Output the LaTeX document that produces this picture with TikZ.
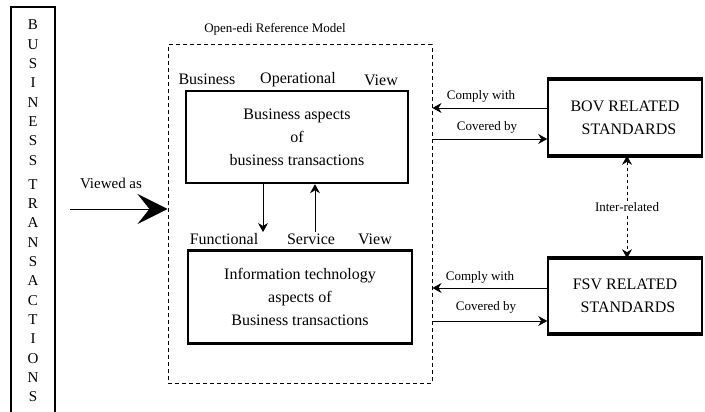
\documentclass[tikz,border=0pt]{standalone}
\usepackage{fontspec}
\setmainfont{Liberation Serif}
\usetikzlibrary{positioning}
\usetikzlibrary{arrows.meta}

\tikzset{
  viewbox/.style={draw, rectangle, line width=2.5pt, minimum width=222pt, minimum height=92pt, align=center, font=\fontsize{16}{23}\selectfont},
  stdbox/.style={draw, rectangle, line width=1.6pt, minimum width=154pt, minimum height=75pt, align=center, font=\fontsize{16}{23}\selectfont},
  viewlabel/.style={font=\fontsize{16}{18}\selectfont, inner sep=0pt},
  smalllabel/.style={font=\fontsize{13}{15}\selectfont, inner sep=0pt},
  arr/.style={-{Stealth[length=9pt,width=10pt,inset=3pt]}, line width=0.8pt},
}

\begin{document}
\begin{tikzpicture}[x=1pt, y=-1pt]
    \useasboundingbox (0,0) rectangle (705,412);

    % Business transactions column
    \node (bizcol) [align=center, inner sep=0pt, font=\fontsize{15}{19.3}\selectfont] at (33,211) {B\\U\\S\\I\\N\\E\\S\\S\\[5pt]T\\R\\A\\N\\S\\A\\C\\T\\I\\O\\N\\S};
    \draw[line width=1.5pt] (11,412) -- (11,7) -- (55,7) -- (55,412);

    % Open-edi Reference Model
    \node (oedi) [draw, dashed, rectangle, line width=1pt, dash pattern=on 4pt off 3pt, minimum width=264pt, minimum height=338pt] at (300,214) {};
    \node (oedititle) [smalllabel] at (275,29) {Open-edi Reference Model};

    % Views
    \node (busbox) [viewbox] at (297,137) {Business aspects\\of\hspace*{10pt}\\business transactions};
    \node (itbox) [viewbox, minimum width=224pt, minimum height=93pt] at (300,297) {Information technology\\aspects of\\Business transactions};

    \node (bovl1) [viewlabel] at (207,79) {Business};
    \node (bovl2) [viewlabel] at (298,80) {Operational};
    \node (bovl3) [viewlabel] at (381,80) {View};
    \node (fsvl1) [viewlabel] at (224,239) {Functional};
    \node (fsvl2) [viewlabel] at (311,239) {Service};
    \node (fsvl3) [viewlabel] at (375,239) {View};

    % Related standards
    \node (bovstd) [stdbox] at (625,117.5) {BOV RELATED\\\hspace*{8pt}STANDARDS};
    \node (fsvstd) [stdbox, minimum height=74pt] at (625,296) {FSV RELATED\\\hspace*{6pt}STANDARDS};
    \draw[line width=3.5pt] (bovstd.north west) -- (bovstd.north east);
    \draw[line width=3.5pt] (bovstd.south west) -- (bovstd.south east);
    \draw[line width=3.5pt] (fsvstd.north west) -- (fsvstd.north east);
    \draw[line width=3.5pt] (fsvstd.south west) -- (fsvstd.south east);

    % Arrows
    \coordinate (vstart) at (70,209);
    \coordinate (dnend) at (263,232);
    \coordinate (upstart) at (315,232);
    \draw[-{Stealth[length=30pt,width=30pt,inset=12pt]}, line width=1pt] (vstart) -- (vstart -| oedi.west);
    \node (viewedas) [viewlabel, font=\fontsize{15}{17}\selectfont] at (111,183) {Viewed as};

    \draw[arr] ([xshift=-34pt]busbox.south) -- (dnend);
    \draw[arr] (upstart) -- ([xshift=18pt]busbox.south);

    \draw[arr] (bovstd.west |- 0,108) -- (oedi.east |- 0,108);
    \draw[arr] (oedi.east |- 0,139) -- (bovstd.west |- 0,139);
    \node (bovcomply) [smalllabel] at (481,96) {Comply with};
    \node (bovcover) [smalllabel] at (487,127) {Covered by};

    \draw[arr] (fsvstd.west |- 0,288) -- (oedi.east |- 0,288);
    \draw[arr] (oedi.east |- 0,321) -- (fsvstd.west |- 0,321);
    \node (fsvcomply) [smalllabel] at (480,277) {Comply with};
    \node (fsvcover) [smalllabel] at (486,307) {Covered by};

    \draw[{Stealth[length=9pt,width=10pt,inset=3pt]}-{Stealth[length=9pt,width=10pt,inset=3pt]}, dashed, line width=0.8pt] ([xshift=2pt]bovstd.south) -- node[smalllabel, fill=white, inner sep=1pt] (interrel) {Inter-related} ([xshift=2pt]fsvstd.north);

\end{tikzpicture}
\end{document}
